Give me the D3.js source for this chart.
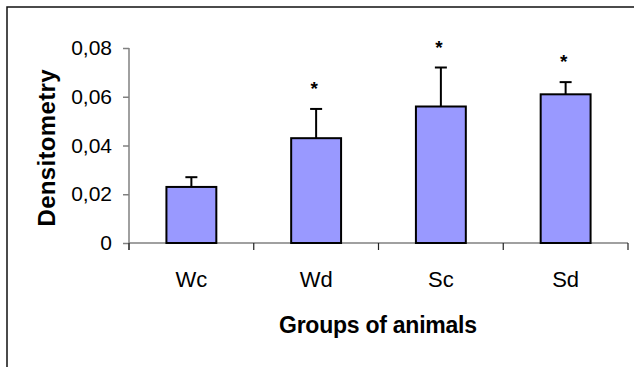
<!DOCTYPE html>
<html>
<head>
<meta charset="utf-8">
<script src="https://cdn.jsdelivr.net/npm/d3@7"></script>
<style>
  body { margin: 0; background: #fff; }
  svg { display: block; font-family: Arial, "Liberation Sans", sans-serif; }
</style>
</head>
<body>
<div id="chart"></div>
<script>
// Data
const groups = ["Wc", "Wd", "Sc", "Sd"];
const means = [0.023, 0.043, 0.056, 0.061];
const errors = [0.004, 0.012, 0.016, 0.005];
const significant = [false, true, true, true];
const yTicks = [0, 0.02, 0.04, 0.06, 0.08];

const WIDTH = 634;
const HEIGHT = 367;

// plot area
const plot = { left: 129, right: 628, top: 48, bottom: 243 };

const svg = d3
  .select("#chart")
  .append("svg")
  .attr("width", WIDTH)
  .attr("height", HEIGHT);

// Outer frame (runs off the right and bottom edges)
svg
  .append("rect")
  .attr("x", 7)
  .attr("y", 7)
  .attr("width", 700)
  .attr("height", 500)
  .attr("fill", "none")
  .attr("stroke", "#111")
  .attr("stroke-width", 1.5);

// Scales
const x = d3
  .scaleBand()
  .domain(groups)
  .range([plot.left, plot.right])
  .padding(0);

const y = d3.scaleLinear().domain([0, 0.08]).range([plot.bottom, plot.top]);

// Comma decimal format
const locale = d3.formatLocale({
  decimal: ",",
  thousands: ".",
  grouping: [3],
  currency: ["", ""],
});
const fmt = locale.format(".2f");

// y axis
const yAxis = d3
  .axisLeft(y)
  .tickValues(yTicks)
  .tickSize(6)
  .tickSizeOuter(0)
  .tickPadding(11)
  .tickFormat((d) => (d === 0 ? "0" : fmt(d)));

const gy = svg
  .append("g")
  .attr("transform", "translate(" + plot.left + ",0)")
  .call(yAxis);

gy.selectAll("path, line").attr("stroke", "#808080").attr("stroke-width", 1.5);
gy.select(".domain").attr("d", "M0," + y(0.08) + "V" + (plot.bottom + 7));
gy.selectAll("text")
  .attr("font-size", 21)
  .attr("font-family", "Arial, 'Liberation Sans', sans-serif")
  .attr("fill", "#000");

// x axis (ticks at category boundaries)
const gx = svg.append("g");
gx.append("line")
  .attr("x1", plot.left)
  .attr("x2", plot.right)
  .attr("y1", y(0))
  .attr("y2", y(0))
  .attr("stroke", "#808080")
  .attr("stroke-width", 1.5);

const boundaries = groups.map((g) => x(g) + x.bandwidth()).concat([x(groups[0])]);
gx.selectAll(".xtick")
  .data(boundaries)
  .enter()
  .append("line")
  .attr("class", "xtick")
  .attr("x1", (d) => d)
  .attr("x2", (d) => d)
  .attr("y1", y(0))
  .attr("y2", y(0) + 7)
  .attr("stroke", "#222")
  .attr("stroke-width", 1.2);

gx.selectAll(".xlabel")
  .data(groups)
  .enter()
  .append("text")
  .attr("class", "xlabel")
  .attr("x", (d) => x(d) + x.bandwidth() / 2)
  .attr("y", 287)
  .attr("text-anchor", "middle")
  .attr("font-size", 22)
  .text((d) => d);

// Bars
const barW = x.bandwidth() * 0.4;
const rows = groups.map((g, i) => ({ g: g, m: means[i], e: errors[i], s: significant[i] }));

svg
  .selectAll(".bar")
  .data(rows)
  .enter()
  .append("rect")
  .attr("class", "bar")
  .attr("x", (d) => x(d.g) + x.bandwidth() / 2 - barW / 2)
  .attr("y", (d) => y(d.m))
  .attr("width", barW)
  .attr("height", (d) => y(0) - y(d.m))
  .attr("fill", "#9999ff")
  .attr("stroke", "#000")
  .attr("stroke-width", 2);

// Error bars (upper only)
const err = svg.selectAll(".err").data(rows).enter().append("g").attr("class", "err");
err
  .append("line")
  .attr("x1", (d) => x(d.g) + x.bandwidth() / 2)
  .attr("x2", (d) => x(d.g) + x.bandwidth() / 2)
  .attr("y1", (d) => y(d.m))
  .attr("y2", (d) => y(d.m + d.e))
  .attr("stroke", "#000")
  .attr("stroke-width", 2);
err
  .append("line")
  .attr("x1", (d) => x(d.g) + x.bandwidth() / 2 - 6)
  .attr("x2", (d) => x(d.g) + x.bandwidth() / 2 + 6)
  .attr("y1", (d) => y(d.m + d.e))
  .attr("y2", (d) => y(d.m + d.e))
  .attr("stroke", "#000")
  .attr("stroke-width", 2);

// Asterisks
svg
  .selectAll(".star")
  .data(rows.filter((d) => d.s))
  .enter()
  .append("text")
  .attr("class", "star")
  .attr("x", (d) => x(d.g) + x.bandwidth() / 2 - 2)
  .attr("y", (d) => y(d.m + d.e) - 14)
  .attr("text-anchor", "middle")
  .attr("font-size", 19)
  .attr("font-weight", "bold")
  .text("*");

// Axis titles
svg
  .append("text")
  .attr("x", 378)
  .attr("y", 333)
  .attr("text-anchor", "middle")
  .attr("font-size", 23)
  .attr("font-weight", "bold")
  .attr("textLength", 198)
  .text("Groups of animals");

svg
  .append("text")
  .attr("transform", "translate(55,148) rotate(-90)")
  .attr("text-anchor", "middle")
  .attr("font-size", 24)
  .attr("font-weight", "bold")
  .attr("textLength", 157)
  .text("Densitometry");
</script>
</body>
</html>
